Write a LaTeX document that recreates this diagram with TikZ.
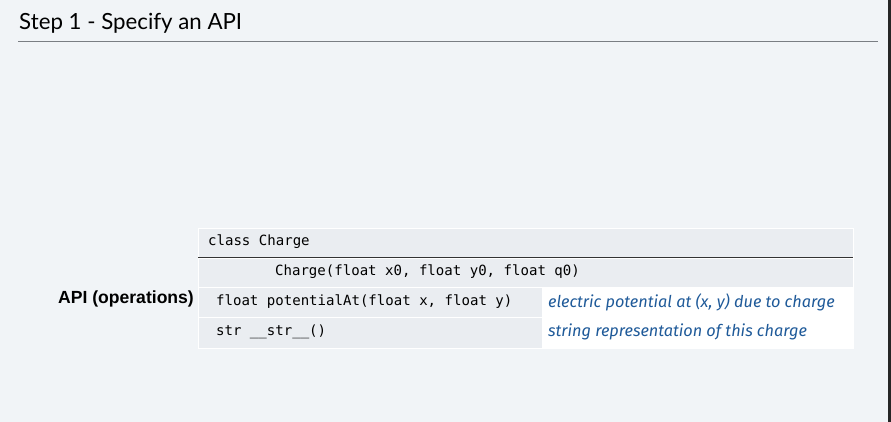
\documentclass[tikz,border=0pt]{standalone}
\usepackage{fontspec}
\setmainfont{Lato}
\newfontfamily\codefont{DejaVu Sans Mono}
\newfontfamily\notefont{Fira Sans}
\newfontfamily\labelfont{Liberation Sans}
\definecolor{pagebg}{HTML}{F1F4F7}
\definecolor{cellbg}{HTML}{EAEDF1}
\definecolor{notecol}{HTML}{1F5A99}
\definecolor{rulecol}{HTML}{7A7E83}
\tikzset{
  code/.style={anchor=west, font=\codefont\fontsize{12}{14}\selectfont},
  note/.style={anchor=west, text=notecol, font=\notefont\itshape\fontsize{13.9}{16}\selectfont},
  cell/.style={fill=cellbg, draw=white, line width=0.6pt}
}
\begin{document}
\begin{tikzpicture}[x=0.03cm, y=-0.03cm]
  \fill[pagebg] (0,0) rectangle (891,422);
  \fill[black!85] (888,0) rectangle (891,422);
  \useasboundingbox (0,0) rectangle (891,422);
  % title
  \node[anchor=south west, inner sep=0pt, font=\fontsize{19}{22}\selectfont] (title) at (19,34) {Step 1 - Specify an API};
  \draw[rulecol, line width=0.6pt] (18,41) -- (878,41);
  % table
  \path[cell] (198,228) rectangle (853,257);
  \path[cell] (198,258) rectangle (853,287);
  \path[cell] (198,287) rectangle (542,317);
  \path[cell] (198,317) rectangle (542,348);
  \path[fill=white, draw=white] (542,287) rectangle (853,348);
  \draw[black!80, line width=1.5pt] (198,257.5) -- (853,257.5);
  \draw[white, line width=1pt] (542,317) -- (853,317);
  \node[code] (cls) at (204,242) {class Charge};
  \node[code] (ctor) at (271,272) {Charge(float x0, float y0, float q0)};
  \node[code] (pot) at (212,302) {float potentialAt(float x, float y)};
  \node[code] (str) at (212,332) {str \_\_str\_\_()};
  \node[note] (potnote) at (544,302) {electric potential at (x, y) due to charge};
  \node[note] (strnote) at (544,332) {string representation of this charge};
  \node[anchor=east, font=\labelfont\bfseries\fontsize{15}{17}\selectfont] (api) at (198,299) {API (operations)};
\end{tikzpicture}
\end{document}
